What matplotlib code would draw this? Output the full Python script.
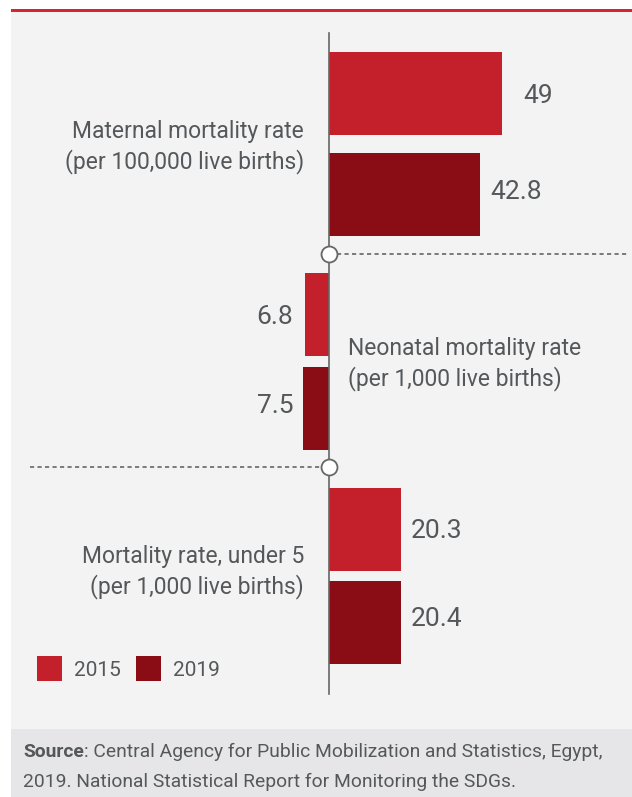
import matplotlib.pyplot as plt
from matplotlib.patches import Rectangle

# data
groups = ['Maternal mortality rate\n(per 100,000 live births)',
          'Neonatal mortality rate\n(per 1,000 live births)',
          'Mortality rate, under 5\n(per 1,000 live births)']
years = ['2015', '2019']
values_2015 = [49, 6.8, 20.3]
values_2019 = [42.8, 7.5, 20.4]
labels_2015 = ['49', '6.8', '20.3']
labels_2019 = ['42.8', '7.5', '20.4']
direction = [1, -1, 1]   # neonatal bars go to the left

c2015 = '#c4202c'
c2019 = '#8a0c14'
txt = '#55585a'
grey = '#666666'

plt.rcParams['font.family'] = ['Roboto', 'DejaVu Sans']

W, H = 632, 797
fig = plt.figure(figsize=(W / 100, H / 100), dpi=100)
fig.patch.set_facecolor('white')

# background panels (figure pixels)
def frect(x0, y0, x1, y1, color):
    fig.add_artist(Rectangle((x0 / W, 1 - y1 / H), (x1 - x0) / W, (y1 - y0) / H,
                             transform=fig.transFigure, color=color, lw=0, zorder=0))

frect(11, 12, W, 729, '#f3f3f3')
frect(11, 729, W, H, '#e6e6e8')
frect(11, 9, W, 12, '#d3262e')

ax = fig.add_axes([0, 0, 1, 1])
ax.set_facecolor('none')
px = 3.53            # pixels per unit
x0 = 329             # pixel position of the zero line
ax.set_xlim(-x0 / px, (W - x0) / px)
ax.set_ylim(H, 0)
ax.axis('off')

# layout (pixel rows)
y2015 = [93.5, 314.5, 529.5]
y2019 = [194.5, 408.5, 622.5]
bar_h = 83
gap = [21, 12, 10]
gap19 = [10, 9, 10]

for i in range(3):
    d = direction[i]
    ax.barh(y2015[i], d * values_2015[i], height=bar_h, color=c2015, zorder=2)
    ax.barh(y2019[i], d * values_2019[i], height=bar_h, color=c2019, zorder=2)
    ha = 'left' if d > 0 else 'right'
    ax.text(d * (values_2015[i] + gap[i] / px), y2015[i] + 2, labels_2015[i],
            ha=ha, va='center', fontsize=19, color=txt)
    ax.text(d * (values_2019[i] + gap19[i] / px), y2019[i] - 3, labels_2019[i],
            ha=ha, va='center', fontsize=19, color=txt)

# group labels
ax.text(-25 / px, 147, groups[0], ha='right', va='center', fontsize=16.5,
        color=txt, linespacing=1.3)
ax.text(19 / px, 364, groups[1], ha='left', va='center', fontsize=16.5,
        color=txt, linespacing=1.3)
ax.text(-25 / px, 572, groups[2], ha='right', va='center', fontsize=16.5,
        color=txt, linespacing=1.3)

# centre axis, separators and markers
ax.plot([0, 0], [33, 694], color=grey, lw=1.2, zorder=3)
ax.plot([8 / px, 298 / px], [254, 254], color=grey, lw=1.2, ls=(0, (2.5, 2)), zorder=3)
ax.plot([-299 / px, -7 / px], [467, 467], color=grey, lw=1.2, ls=(0, (2.5, 2)), zorder=3)
ax.plot([0, 0], [254, 467], ls='none', marker='o', ms=11.5, mfc='white',
        mec=grey, mew=1.3, zorder=4)

# legend
for k, (yr, col) in enumerate(zip(years, [c2015, c2019])):
    lx = (37 + k * 99 - x0) / px
    ax.add_patch(Rectangle((lx, 656), 25 / px, 25, color=col, lw=0, zorder=2))
    ax.text(lx + 37 / px, 670, yr, ha='left', va='center', fontsize=15, color=txt)

# source
renderer = fig.canvas.get_renderer()
s = fig.text(23 / W, 1 - 752 / H, 'Source', fontsize=13.9, color=txt,
             va='center', fontweight='bold')
bb = s.get_window_extent(renderer=renderer)
fig.text(bb.x1 / W, 1 - 752 / H,
         ': Central Agency for Public Mobilization and Statistics, Egypt,',
         fontsize=13.9, color=txt, va='center')
fig.text(23 / W, 1 - 782 / H, '2019. National Statistical Report for Monitoring the SDGs.',
         fontsize=13.9, color=txt, va='center')

plt.savefig('out.png', dpi=100, facecolor=fig.get_facecolor())
